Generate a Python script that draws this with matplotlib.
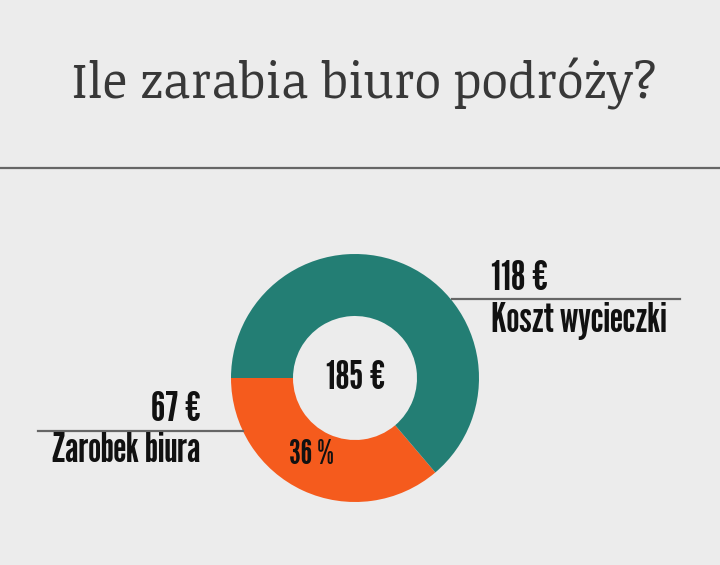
import matplotlib
matplotlib.use('Agg')
import matplotlib.pyplot as plt

# Data
title = u'Ile zarabia biuro podróży?'
parts = [u'Zarobek biura', u'Koszt wycieczki']
amounts = [67, 118]          # EUR
total = sum(amounts)         # 185 EUR
colors = ['#f55b1d', '#237e74']

bg = '#ececec'
W, H = 720, 565
label_font = ['League Gothic', 'Oswald', 'DejaVu Sans']
ink = '#111111'

fig = plt.figure(figsize=(W / 100, H / 100), dpi=100, facecolor=bg)
ax = fig.add_axes([0, 0, 1, 1])
ax.set_facecolor(bg)

# donut: orange slice starts at 9 o'clock and runs down to the right
cx, cy, R = 355, H - 378, 124
wedges, texts, autotexts = ax.pie(
    amounts, colors=colors, startangle=180, counterclock=True,
    radius=R, center=(cx, cy), wedgeprops=dict(width=R / 2, linewidth=0),
    autopct=lambda p: u'%d %%' % round(p), pctdistance=0.72)
autotexts[1].set_visible(False)
autotexts[0].set_fontsize(24)
autotexts[0].set_family(label_font)
autotexts[0].set_color(ink)
autotexts[0].set_position((311, H - 454))

ax.set_xlim(0, W)
ax.set_ylim(0, H)
ax.set_aspect('equal')
ax.axis('off')

# centre total
ax.text(cx + 1, cy, u'%d €' % total, ha='center', va='center',
        fontsize=29, family=label_font, color=ink)

# title + rule
ax.text(365, H - 98, title, ha='center', va='baseline', fontsize=35,
        family=['Noticia Text', 'DejaVu Serif'], color='#383838')
ax.plot([0, W], [H - 168, H - 168], color='#666666', lw=1.6, solid_capstyle='butt')

# right callout (Koszt wycieczki)
ax.plot([452, 680], [H - 299, H - 299], color='#666666', lw=1.6)
ax.text(491, H - 290, u'%d €' % amounts[1], ha='left', va='baseline',
        fontsize=30, family=label_font, color=ink)
ax.text(491, H - 332, parts[1], ha='left', va='baseline',
        fontsize=30, family=label_font, color=ink)

# left callout (Zarobek biura)
ax.plot([38, 243], [H - 431, H - 431], color='#666666', lw=1.6)
ax.text(201, H - 421, u'%d €' % amounts[0], ha='right', va='baseline',
        fontsize=30, family=label_font, color=ink)
ax.text(201, H - 462, parts[0], ha='right', va='baseline',
        fontsize=30, family=label_font, color=ink)

fig.savefig('out.png', facecolor=bg)
